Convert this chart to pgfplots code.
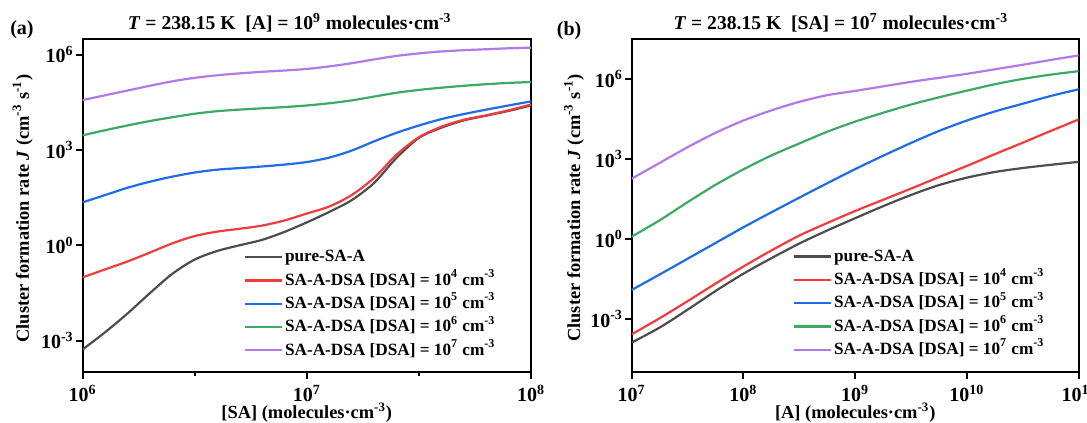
\documentclass[border=0pt]{standalone}
\usepackage{fontspec}
\setmainfont{Liberation Serif}
\usepackage{pgfplots}
\pgfplotsset{compat=1.18}
\usepackage{pgfplotstable}

\definecolor{cgray}{RGB}{77,77,77}
\definecolor{cred}{RGB}{242,60,60}
\definecolor{cblue}{RGB}{30,108,230}
\definecolor{cgreen}{RGB}{60,170,100}
\definecolor{cpurple}{RGB}{178,122,232}

% panel (a): J against [SA], [A] = 1e9
\pgfplotstableread{
x        gray     red      blue    green   purple
1e6      5.248e-4 9.772e-2 22.39   2884    3.715e4
1.259e6  1.820e-3 0.1738   38.02   4169    5.248e4
1.585e6  7.079e-3 0.3090   64.57   5888    7.413e4
1.995e6  3.090e-2 0.5888   100.0   8128    1.047e5
2.512e6  0.1259   1.148    144.5   1.072e4 1.445e5
3.162e6  0.3548   1.950    195.0   1.380e4 1.862e5
3.981e6  0.6607   2.692    239.9   1.660e4 2.239e5
5.012e6  1.000    3.311    269.2   1.862e4 2.570e5
6.310e6  1.479    4.169    302.0   2.042e4 2.884e5
7.943e6  2.630    6.026    346.7   2.239e4 3.162e5
1e7      5.248    10.00    416.9   2.512e4 3.548e5
1.259e7  11.22    16.60    575.4   2.951e4 4.266e5
1.585e7  26.30    38.02    955.0   3.631e4 5.370e5
1.995e7  91.20    131.8    1862    4.786e4 7.079e5
2.512e7  562.3    707.9    3467    6.310e4 9.120e5
3.162e7  2399     2512     5888    7.762e4 1.096e6
3.981e7  5012     5370     9333    9.120e4 1.259e6
5.012e7  8511     8913     1.349e4 1.047e5 1.380e6
6.310e7  1.202e4  1.230e4  1.862e4 1.175e5 1.479e6
7.943e7  1.698e4  1.778e4  2.512e4 1.288e5 1.585e6
1e8      2.512e4  2.692e4  3.388e4 1.380e5 1.660e6
}\tabSA

% panel (b): J against [A], [SA] = 1e7
\pgfplotstableread{
x        gray     red      blue     green   purple
1e7      1.318e-4 2.692e-4 1.230e-2 1.230   182.0
1.778e7  4.786e-4 1.072e-3 4.677e-2 5.012   707.9
3.162e7  2.239e-3 4.677e-3 0.1820   23.99   2754
5.623e7  1.122e-2 2.138e-2 0.7079   107.2   9550
1e8      5.012e-2 9.333e-2 2.754    407.4   2.754e4
1.778e8  0.1905   0.3715   10.00    1349    6.607e4
3.162e8  0.6761   1.349    35.48    3802    1.380e5
5.623e8  2.089    3.981    123.0    1.047e4 2.455e5
1e9      6.026    11.22    416.9    2.512e4 3.548e5
1.778e9  16.98    29.51    1318     5.370e4 5.248e5
3.162e9  44.67    77.62    3981     1.096e5 7.762e5
5.623e9  104.7    208.9    1.122e4  2.042e5 1.096e6
1e10     199.5    549.5    2.754e4  3.631e5 1.549e6
1.778e10 323.6    1514     6.026e4  6.310e5 2.291e6
3.162e10 457.1    4074     1.175e5  1.000e6 3.388e6
5.623e10 602.6    1.122e4  2.291e5  1.445e6 5.129e6
1e11     776.2    3.020e4  4.074e5  1.950e6 7.586e6
}\tabA

\begin{document}
\begin{tikzpicture}
\useasboundingbox (0,0) rectangle (543.5pt,211.5pt);

\begin{axis}[
  scale only axis,
  at={(41.25pt,25.3pt)}, anchor=south west,
  width=224.25pt, height=166.5pt,
  xmode=log, ymode=log,
  xmin=1e6, xmax=1e8, ymin=1e-4, ymax=3.02e6,
  clip mode=individual,
  axis line style={line width=1pt},
  tick align=outside, tick pos=left,
  major tick length=3.2pt, minor tick length=2pt,
  tick style={black, line width=1pt},
  xtick={1e6,1e7,1e8},
  xticklabels={10\textsuperscript{6},10\textsuperscript{7},10\textsuperscript{8}},
  minor xtick={3.162e6,3.162e7},
  yminorticks=false,
  ytick={1e-3,1,1e3,1e6},
  yticklabels={10\textsuperscript{-3},10\textsuperscript{0},10\textsuperscript{3},10\textsuperscript{6}},
  tick label style={font=\bfseries\fontsize{10}{12}\selectfont},
  xticklabel style={inner sep=1.5pt, yshift=-1.5pt},
  yticklabel style={inner sep=1pt},
  label style={font=\bfseries\fontsize{9.2}{11}\selectfont},
  xlabel={[SA] (molecules·cm\textsuperscript{-3})},
  ylabel={Cluster formation rate \textit{J} (cm\textsuperscript{-3} s\textsuperscript{-1})},
  xlabel style={at={(axis description cs:0.5,-0.121)}, anchor=center, inner sep=1pt},
  ylabel style={at={(axis description cs:-0.1333,0.4917)}, anchor=center},
  title={\textit{T} = 238.15 K\ \ [A] = 10\textsuperscript{9} molecules·cm\textsuperscript{-3}},
  title style={at={(axis description cs:0.462,1.0286)}, anchor=base, yshift=-6pt,
    font=\bfseries\fontsize{9.8}{11}\selectfont},
  legend cell align=left,
  legend image code/.code={\draw[#1, line width=1.1pt] (0pt,0pt) -- (18.6pt,0pt);},
  legend style={at={(axis description cs:0.3594,0.381)}, anchor=north west,
    draw=none, fill=none, inner sep=0pt, outer sep=0pt, row sep=0pt,
    font=\bfseries\fontsize{8.6}{10}\selectfont,
    nodes={inner sep=1pt, text height=7.2pt, text depth=2.45pt}},
  every axis plot/.append style={line width=1.1pt, smooth},
]
\addplot[cgray] table[x=x, y=gray] {\tabSA};
\addlegendentry{pure-SA-A}
\addplot[cred] table[x=x, y=red] {\tabSA};
\addlegendentry{SA-A-DSA [DSA] = 10\textsuperscript{4} cm\textsuperscript{-3}}
\addplot[cblue] table[x=x, y=blue] {\tabSA};
\addlegendentry{SA-A-DSA [DSA] = 10\textsuperscript{5} cm\textsuperscript{-3}}
\addplot[cgreen] table[x=x, y=green] {\tabSA};
\addlegendentry{SA-A-DSA [DSA] = 10\textsuperscript{6} cm\textsuperscript{-3}}
\addplot[cpurple] table[x=x, y=purple] {\tabSA};
\addlegendentry{SA-A-DSA [DSA] = 10\textsuperscript{7} cm\textsuperscript{-3}}
\node[font=\bfseries\fontsize{10}{12}\selectfont] at (axis description cs:-0.135,1.030) {(a)};
\end{axis}

\begin{axis}[
  scale only axis,
  at={(315.85pt,25.3pt)}, anchor=south west,
  width=223.5pt, height=166.5pt,
  xmode=log, ymode=log,
  xmin=1e7, xmax=1e11, ymin=1e-5, ymax=3.02e7,
  clip mode=individual,
  axis line style={line width=1pt},
  tick align=outside, tick pos=left,
  major tick length=3.2pt,
  tick style={black, line width=1pt},
  xtick={1e7,1e8,1e9,1e10,1e11},
  xticklabels={10\textsuperscript{7},10\textsuperscript{8},10\textsuperscript{9},10\textsuperscript{10},10\textsuperscript{11}},
  xminorticks=false, yminorticks=false,
  ytick={1e-3,1,1e3,1e6},
  yticklabels={10\textsuperscript{-3},10\textsuperscript{0},10\textsuperscript{3},10\textsuperscript{6}},
  tick label style={font=\bfseries\fontsize{10}{12}\selectfont},
  xticklabel style={inner sep=1.5pt, yshift=-1.5pt},
  yticklabel style={inner sep=1pt},
  label style={font=\bfseries\fontsize{9.2}{11}\selectfont},
  xlabel={[A] (molecules·cm\textsuperscript{-3})},
  ylabel={Cluster formation rate \textit{J} (cm\textsuperscript{-3} s\textsuperscript{-1})},
  xlabel style={at={(axis description cs:0.5,-0.121)}, anchor=center, inner sep=1pt},
  ylabel style={at={(axis description cs:-0.129,0.494)}, anchor=center},
  title={\textit{T} = 238.15 K\ \ [SA] = 10\textsuperscript{7} molecules·cm\textsuperscript{-3}},
  title style={at={(axis description cs:0.468,1.0286)}, anchor=base, yshift=-6pt,
    font=\bfseries\fontsize{9.8}{11}\selectfont},
  legend cell align=left,
  legend image code/.code={\draw[#1, line width=1.1pt] (0pt,0pt) -- (18.6pt,0pt);},
  legend style={at={(axis description cs:0.3602,0.383)}, anchor=north west,
    draw=none, fill=none, inner sep=0pt, outer sep=0pt, row sep=0pt,
    font=\bfseries\fontsize{8.6}{10}\selectfont,
    nodes={inner sep=1pt, text height=7.2pt, text depth=2.45pt}},
  every axis plot/.append style={line width=1.1pt, smooth},
]
\addplot[cgray] table[x=x, y=gray] {\tabA};
\addlegendentry{pure-SA-A}
\addplot[cred] table[x=x, y=red] {\tabA};
\addlegendentry{SA-A-DSA [DSA] = 10\textsuperscript{4} cm\textsuperscript{-3}}
\addplot[cblue] table[x=x, y=blue] {\tabA};
\addlegendentry{SA-A-DSA [DSA] = 10\textsuperscript{5} cm\textsuperscript{-3}}
\addplot[cgreen] table[x=x, y=green] {\tabA};
\addlegendentry{SA-A-DSA [DSA] = 10\textsuperscript{6} cm\textsuperscript{-3}}
\addplot[cpurple] table[x=x, y=purple] {\tabA};
\addlegendentry{SA-A-DSA [DSA] = 10\textsuperscript{7} cm\textsuperscript{-3}}
\node[font=\bfseries\fontsize{10}{12}\selectfont] at (axis description cs:-0.140,1.025) {(b)};
\end{axis}
\end{tikzpicture}
\end{document}
